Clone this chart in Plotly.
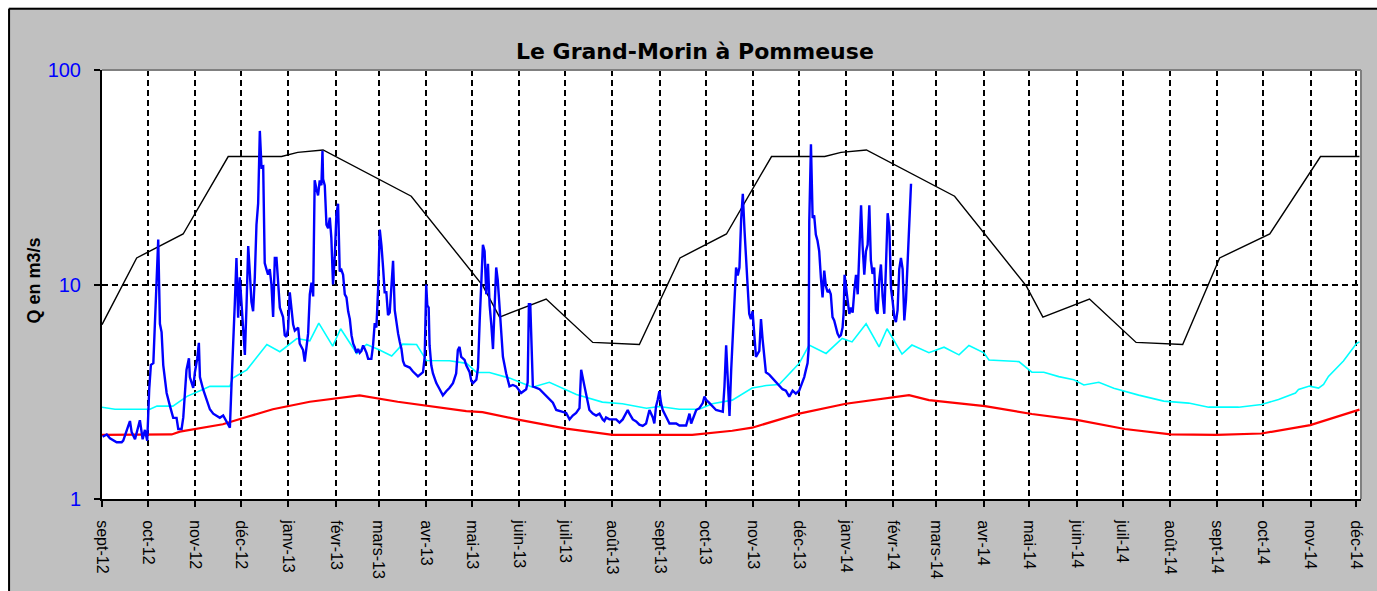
import plotly.graph_objects as go
import pandas as pd

# ---------------- data ----------------
start_date = "2012-09-01"

tick_dates = pd.date_range("2012-09-01", "2014-12-01", freq="MS")
tick_labels = ["sept-12", "oct-12", "nov-12", "déc-12", "janv-13", "févr-13", "mars-13",
               "avr-13", "mai-13", "juin-13", "juil-13", "août-13", "sept-13", "oct-13",
               "nov-13", "déc-13", "janv-14", "févr-14", "mars-14", "avr-14", "mai-14",
               "juin-14", "juil-14", "août-14", "sept-14", "oct-14", "nov-14", "déc-14"]

y_ticks = [1, 10, 100]
y_tick_labels = ["1", "10", "100"]

# black reference line (days since start, m3/s)
black_day = [0, 22.7, 53.1, 82.6, 117.5, 128.1, 144.7, 181.7, 202.4, 249.3, 260.2, 290.7,
             321.2, 351.7, 378.3, 408.7, 438.2, 473, 483.7, 500.3, 537.3, 558, 604.9, 615.8,
             646.3, 676.8, 707.3, 731.5, 764.3, 797.5, 823]
black_q = [6.5, 13.3, 17.2, 39.5, 39.5, 41.3, 42.4, 30.8, 25.8, 9.86, 7.05, 8.56,
           5.37, 5.25, 13.3, 17.2, 39.5, 39.5, 41.3, 42.4, 30.8, 25.8, 9.86, 7.05,
           8.56, 5.37, 5.25, 13.3, 17.2, 39.5, 39.5]

# red line
red_day = [0, 45.6, 51, 61.9, 79.1, 94.6, 111.8, 136, 168.6, 193.5, 212.3, 238.4, 249,
           273.2, 303.8, 334.2, 386.3, 412.5, 425.5, 456.3, 486.8, 508.6, 528.2, 541.2,
           577.9, 608.6, 638, 669.4, 699.4, 729.5, 758.9, 790.8, 821, 823]
red_q = [1.99, 2.0, 2.06, 2.12, 2.23, 2.41, 2.62, 2.84, 3.04, 2.84, 2.73, 2.57, 2.54,
         2.34, 2.13, 1.99, 1.99, 2.08, 2.15, 2.50, 2.78, 2.91, 3.05, 2.89,
         2.71, 2.49, 2.34, 2.12, 2.0, 1.99, 2.02, 2.21, 2.59, 2.61]

# cyan line
cyan_day = [0, 8.5, 31.4, 36, 46.4, 55.6, 66, 70.6, 83.7, 85.6, 94.8, 107.9, 116.4, 127.5,
            136, 141.9, 151, 156.2, 166.7, 173.2, 181.7, 189.6, 196.8, 205.9, 212.4, 227.5,
            238.6, 245.1, 253.6, 266.7, 281.7, 292.8, 310.5, 327.5, 340.6, 356.3, 364.8,
            377.8, 390.9, 399.4, 412.5, 425.5, 434.7, 443.2, 456.3, 462.8, 473.9, 484.4,
            490.9, 500.1, 508.6, 513.8, 523.6, 530.1, 541.2, 551.1, 560.9, 567.4, 577.2,
            580.5, 600.1, 608.6, 616.4, 626.2, 636.0, 642.6, 652.4, 662.2, 678.5, 694.9,
            711.2, 724.3, 743.9, 758.9, 770.0, 781.1, 783.1, 790.3, 796.2, 799.5, 802.7,
            812.5, 821, 823]
cyan_q = [2.68, 2.62, 2.62, 2.71, 2.71, 3.01, 3.24, 3.35, 3.35, 3.66, 4.0, 5.25, 4.86, 5.6,
          5.46, 6.61, 5.16, 6.22, 4.77, 5.25, 4.95, 4.64, 5.27, 5.25, 4.42, 4.41,
          4.29, 3.89, 3.89, 3.66, 3.32, 3.50, 3.07, 2.83, 2.78, 2.65, 2.7,
          2.62, 2.62, 2.78, 2.89, 3.29, 3.38, 3.42, 4.29, 5.22, 4.77, 5.6,
          5.4, 6.56, 5.12, 6.22, 4.74, 5.22, 4.81, 5.1, 4.7, 5.2, 4.8,
          4.45, 4.37, 3.9, 3.9, 3.72, 3.6, 3.4, 3.5, 3.28, 3.05, 2.86,
          2.8, 2.68, 2.68, 2.76, 2.91, 3.12, 3.24, 3.36, 3.29, 3.42, 3.73,
          4.4, 5.3, 5.4]

# blue line: observed discharge
blue_day = [0.4, 3.1, 5.2, 9.6, 12.9, 13.9, 17.2, 18.3, 19.4, 21.6, 24.8, 26.6, 28.1, 29.6,
            30.9, 32.0, 33.6, 35.7, 36.8, 37.9, 39.0, 40.1, 42.3, 44.5, 46.6, 48.8, 49.9,
            52.1, 53.2, 55.3, 56.9, 57.5, 59.7, 60.8, 62.3, 63.4, 64.1, 66.2, 68.4, 70.6,
            72.8, 77.1, 79.3, 81.5, 83.7, 84.8, 85.9, 86.9, 88.0, 89.1, 90.2, 91.3, 92.4,
            93.5, 94.6, 95.7, 96.8, 97.8, 98.9, 100.0, 101.1, 102.2, 103.3, 104.4, 105.5,
            106.5, 107.6, 108.7, 109.8, 110.9, 112.0, 113.1, 114.2, 115.3, 116.4, 118.5,
            119.6, 120.7, 121.8, 122.9, 124.0, 125.1, 126.2, 128.4, 129.4, 131.6, 132.7,
            133.8, 134.9, 136.0, 137.1, 138.2, 138.6, 139.2, 140.3, 141.4, 142.5, 143.6,
            144.3, 144.7, 145.8, 146.9, 148.0, 149.1, 150.1, 151.2, 152.3, 153.4, 154.5,
            155.6, 156.7, 157.8, 158.9, 160.0, 161.1, 162.2, 163.3, 164.4, 165.4, 166.5,
            167.6, 168.7, 169.8, 170.9, 172.0, 173.1, 174.2, 176.3, 177.4, 178.5, 179.6,
            180.7, 181.8, 182.9, 184.0, 185.0, 186.1, 187.2, 188.3, 189.4, 190.5, 191.6,
            192.7, 193.8, 194.9, 196.0, 197.0, 198.1, 201.4, 203.5, 206.8, 210.1, 211.2,
            212.2, 212.9, 213.8, 214.4, 215.5, 216.6, 218.8, 221.0, 223.1, 225.3, 227.5,
            229.7, 231.8, 232.9, 234.0, 235.1, 237.3, 238.4, 240.6, 241.7, 242.8, 245.0,
            246.1, 247.2, 248.2, 249.3, 250.4, 251.5, 252.6, 253.7, 254.8, 255.9, 257.0,
            258.0, 259.0, 260.2, 261.3, 262.4, 264.5, 266.7, 268.9, 271.1, 274.3, 277.6,
            278.6, 279.4, 280.3, 280.9, 282.0, 286.4, 290.7, 295.1, 297.3, 300.5, 303.8,
            306.0, 308.1, 310.3, 312.5, 313.6, 314.7, 315.8, 319.0, 321.2, 323.4, 325.6,
            327.7, 328.8, 329.9, 332.1, 336.5, 338.7, 340.8, 343.0, 344.1, 345.2, 347.4,
            349.6, 351.7, 353.9, 356.1, 358.3, 360.5, 361.5, 362.6, 363.7, 364.8, 365.9,
            367.0, 369.2, 371.4, 375.8, 377.9, 382.3, 383.4, 384.5, 385.6, 386.7, 388.9,
            391.0, 393.2, 394.3, 395.4, 397.6, 399.7, 401.9, 406.3, 407.4, 408.5, 409.6,
            410.7, 411.8, 412.9, 414.0, 415.0, 416.1, 417.2, 418.3, 419.4, 420.5, 421.6,
            422.5, 423.6, 424.7, 425.8, 426.9, 428.0, 430.2, 431.3, 432.4, 433.5, 434.5,
            436.7, 438.9, 441.1, 443.3, 445.4, 447.6, 449.8, 452.0, 454.1, 456.3, 458.5,
            459.6, 460.7, 461.8, 462.5, 462.9, 464.0, 465.1, 466.1, 467.2, 468.3, 469.4,
            470.5, 471.6, 472.7, 473.8, 474.9, 476.0, 477.0, 478.1, 479.2, 480.3, 481.4,
            482.5, 483.6, 484.7, 485.4, 486.0, 486.9, 488.0, 489.1, 490.2, 491.3, 492.4,
            493.5, 494.6, 495.7, 496.8, 497.8, 498.9, 500.0, 501.1, 502.2, 503.2, 504.3,
            505.4, 506.5, 507.6, 508.7, 509.8, 510.9, 512.0, 513.1, 514.2, 515.3, 516.4,
            517.5, 518.6, 519.6, 520.7, 521.8, 522.9, 524.0, 525.1, 526.2, 527.3, 528.4,
            529.5]
blue_q = [1.95, 2.0, 1.92, 1.84, 1.84, 1.87, 2.19, 2.31, 2.05, 1.9, 2.33, 1.9, 2.1, 1.87,
          3.24, 4.22, 4.3, 11.1, 16.2, 6.56, 6.0, 4.2, 3.12, 2.71, 2.39, 2.39, 2.12,
          2.12, 2.4, 4.0, 4.53, 3.7, 3.3, 3.9, 4.5, 5.35, 3.7, 3.24, 2.9, 2.62,
          2.5, 2.39, 2.45, 2.3, 2.15, 3.47, 6.1, 8.1, 13.3, 7.0, 10.8, 8.0, 5.7,
          4.7, 8.0, 15.1, 11.2, 8.3, 7.5, 10.8, 19.0, 23.9, 52.0, 35.2, 35.5,
          12.6, 11.8, 11.1, 11.8, 10.0, 7.05, 13.3, 13.3, 9.6, 7.8, 7.05,
          5.8, 5.7, 6.2, 9.2, 7.8, 6.5, 6.1, 6.3, 5.3, 4.95, 4.37,
          4.95, 5.9, 9.0, 10.2, 8.8, 14.3, 30.6, 28.0, 26.0, 30.6, 29.0,
          42.0, 31.0, 29.0, 19.0, 18.3, 20.5, 16.5, 10.0, 13.3, 21.1, 23.8,
          11.5, 11.7, 11.1, 9.0, 8.7, 7.5, 6.9, 5.8, 5.3, 5.1, 4.8,
          5.0, 4.8, 4.9, 5.2, 5.0, 4.8, 4.5, 4.5, 5.2, 6.6, 6.3,
          9.5, 18.0, 15.2, 11.9, 9.2, 9.2, 7.2, 7.4, 10.4, 12.9, 7.6,
          6.6, 5.9, 5.4, 5.0, 4.4, 4.2, 4.1, 3.93, 3.73, 3.9, 4.6,
          10.0, 8.0, 7.8, 5.2, 4.2, 3.85, 3.47, 3.25, 3.04, 3.18, 3.3,
          3.47, 3.85, 4.95, 5.12, 4.6, 4.45, 4.2, 3.9, 3.55, 3.47, 3.6,
          4.1, 6.8, 10.8, 15.3, 14.3, 9.0, 12.5, 8.0, 6.5, 5.0, 8.0,
          12.0, 10.5, 7.5, 6.3, 4.6, 3.86, 3.35, 3.4, 3.35, 3.12, 3.25,
          3.5, 8.1, 8.1, 5.3, 3.35, 3.25, 3.01, 2.81, 2.6, 2.55, 2.52,
          2.35, 2.45, 2.52, 2.65, 4.0, 3.7, 3.35, 2.6, 2.5, 2.45, 2.5,
          2.35, 2.31, 2.4, 2.35, 2.35, 2.27, 2.35, 2.5, 2.6, 2.5, 2.35,
          2.3, 2.22, 2.19, 2.25, 2.6, 2.4, 2.25, 2.7, 2.9, 3.18, 2.8,
          2.6, 2.42, 2.25, 2.25, 2.2, 2.2, 2.35, 2.5, 2.25, 2.35, 2.6,
          2.65, 2.8, 3.0, 2.9, 2.8, 2.7, 2.6, 2.55, 3.35, 5.2, 3.8,
          2.44, 4.0, 6.0, 9.3, 12.0, 11.0, 12.0, 20.0, 26.5, 18.0, 12.0,
          10.0, 7.3, 6.9, 7.5, 5.8, 4.6, 4.9, 6.9, 5.5, 4.5, 3.9,
          3.8, 3.65, 3.5, 3.35, 3.25, 3.2, 3.0, 3.2, 3.1, 3.2, 3.5,
          3.7, 4.0, 4.3, 5.0, 19.6, 45.0, 20.4, 21.0, 17.1, 16.0, 14.3,
          10.8, 8.7, 11.6, 9.8, 9.2, 9.4, 9.0, 7.05, 6.8, 6.3, 5.9,
          5.7, 5.8, 6.3, 7.4, 11.1, 9.8, 8.3, 7.3, 7.8, 7.4, 9.4,
          11.1, 9.0, 14.3, 23.4, 15.2, 11.1, 14.3, 15.3, 23.4, 13.0, 11.2,
          12.0, 7.6, 7.3, 10.5, 12.4, 8.8, 7.3, 12.2, 21.5, 18.5, 9.6,
          8.3, 7.0, 6.68, 7.6, 11.8, 13.3, 11.8, 6.8, 8.5, 12.5, 19.0,
          29.5]

# ---------------- helpers ----------------
t0 = pd.Timestamp(start_date)


def to_dates(days):
    return [t0 + pd.Timedelta(days=float(d)) for d in days]


W, H = 1377, 591
L, R, T, B = 102, 1362, 70, 504


def fx(px):
    return (px - L) / (R - L)


def fy(py):
    return (B - py) / (B - T)


font_family = "Liberation Sans, Arial, sans-serif"

fig = go.Figure()
fig.add_trace(go.Scatter(x=to_dates(cyan_day), y=cyan_q, mode="lines",
                         line=dict(color="#00FFFF", width=1.6), hoverinfo="skip"))
fig.add_trace(go.Scatter(x=to_dates(red_day), y=red_q, mode="lines",
                         line=dict(color="#FF0000", width=2.2), hoverinfo="skip"))
fig.add_trace(go.Scatter(x=to_dates(black_day), y=black_q, mode="lines",
                         line=dict(color="#000000", width=1.4), hoverinfo="skip"))
fig.add_trace(go.Scatter(x=to_dates(blue_day), y=blue_q, mode="lines",
                         line=dict(color="#0000FF", width=2.4), hoverinfo="skip"))

shapes = [
    # white margins outside the chart frame
    dict(type="rect", xref="paper", yref="paper", x0=fx(-10), x1=fx(8), y0=fy(620), y1=fy(-10),
         fillcolor="white", line=dict(width=0), layer="below"),
    dict(type="rect", xref="paper", yref="paper", x0=fx(-10), x1=fx(1400), y0=fy(7), y1=fy(-10),
         fillcolor="white", line=dict(width=0), layer="below"),
    # black chart frame
    dict(type="line", xref="paper", yref="paper", x0=fx(9), x1=fx(1400), y0=fy(8), y1=fy(8),
         line=dict(color="black", width=2)),
    dict(type="line", xref="paper", yref="paper", x0=fx(9), x1=fx(9), y0=fy(8), y1=fy(620),
         line=dict(color="black", width=2)),
    # grey top / right plot border
    dict(type="line", xref="paper", yref="paper", x0=0, x1=1, y0=1, y1=1,
         line=dict(color="#808080", width=2)),
    dict(type="line", xref="paper", yref="paper", x0=1, x1=1, y0=0, y1=1,
         line=dict(color="#808080", width=2)),
]

annotations = [
    dict(text="<b>Le Grand-Morin à Pommeuse</b>", xref="paper", yref="paper",
         x=fx(695), y=fy(51), xanchor="center", yanchor="middle", showarrow=False,
         font=dict(family="DejaVu Sans, sans-serif", size=22, color="black")),
    dict(text="<b>Q en m3/s</b>", xref="paper", yref="paper",
         x=fx(33), y=fy(283), xanchor="center", yanchor="middle", showarrow=False,
         textangle=-90, font=dict(family=font_family, size=18, color="black")),
]

fig.update_layout(
    width=W, height=H,
    margin=dict(l=L, r=W - R, t=T, b=H - B, pad=0),
    paper_bgcolor="#C0C0C0",
    plot_bgcolor="white",
    showlegend=False,
    shapes=shapes,
    annotations=annotations,
    font=dict(family=font_family, color="black"),
)

fig.update_xaxes(
    type="date",
    range=[t0, pd.Timestamp("2014-12-04")],
    tickvals=list(tick_dates), ticktext=tick_labels,
    tickangle=90, tickfont=dict(size=16, color="black", family=font_family),
    ticks="outside", ticklen=6, tickwidth=2, tickcolor="black", ticklabelstandoff=10,
    showgrid=True, gridcolor="black", gridwidth=2, griddash="6px,4px",
    showline=True, linecolor="black", linewidth=2, zeroline=False,
)
fig.update_yaxes(
    type="log", range=[0, 2],
    tickvals=y_ticks, ticktext=y_tick_labels,
    tickfont=dict(size=20, color="#0000FF", family=font_family),
    ticks="outside", ticklen=6, tickwidth=2, tickcolor="black", ticklabelstandoff=9,
    showgrid=True, gridcolor="black", gridwidth=2, griddash="6px,4px",
    showline=True, linecolor="black", linewidth=2, zeroline=False,
)

fig.write_html("out.html",
               config={"displayModeBar": False},
               post_script="document.body.style.margin='0';document.body.style.overflow='hidden';")
